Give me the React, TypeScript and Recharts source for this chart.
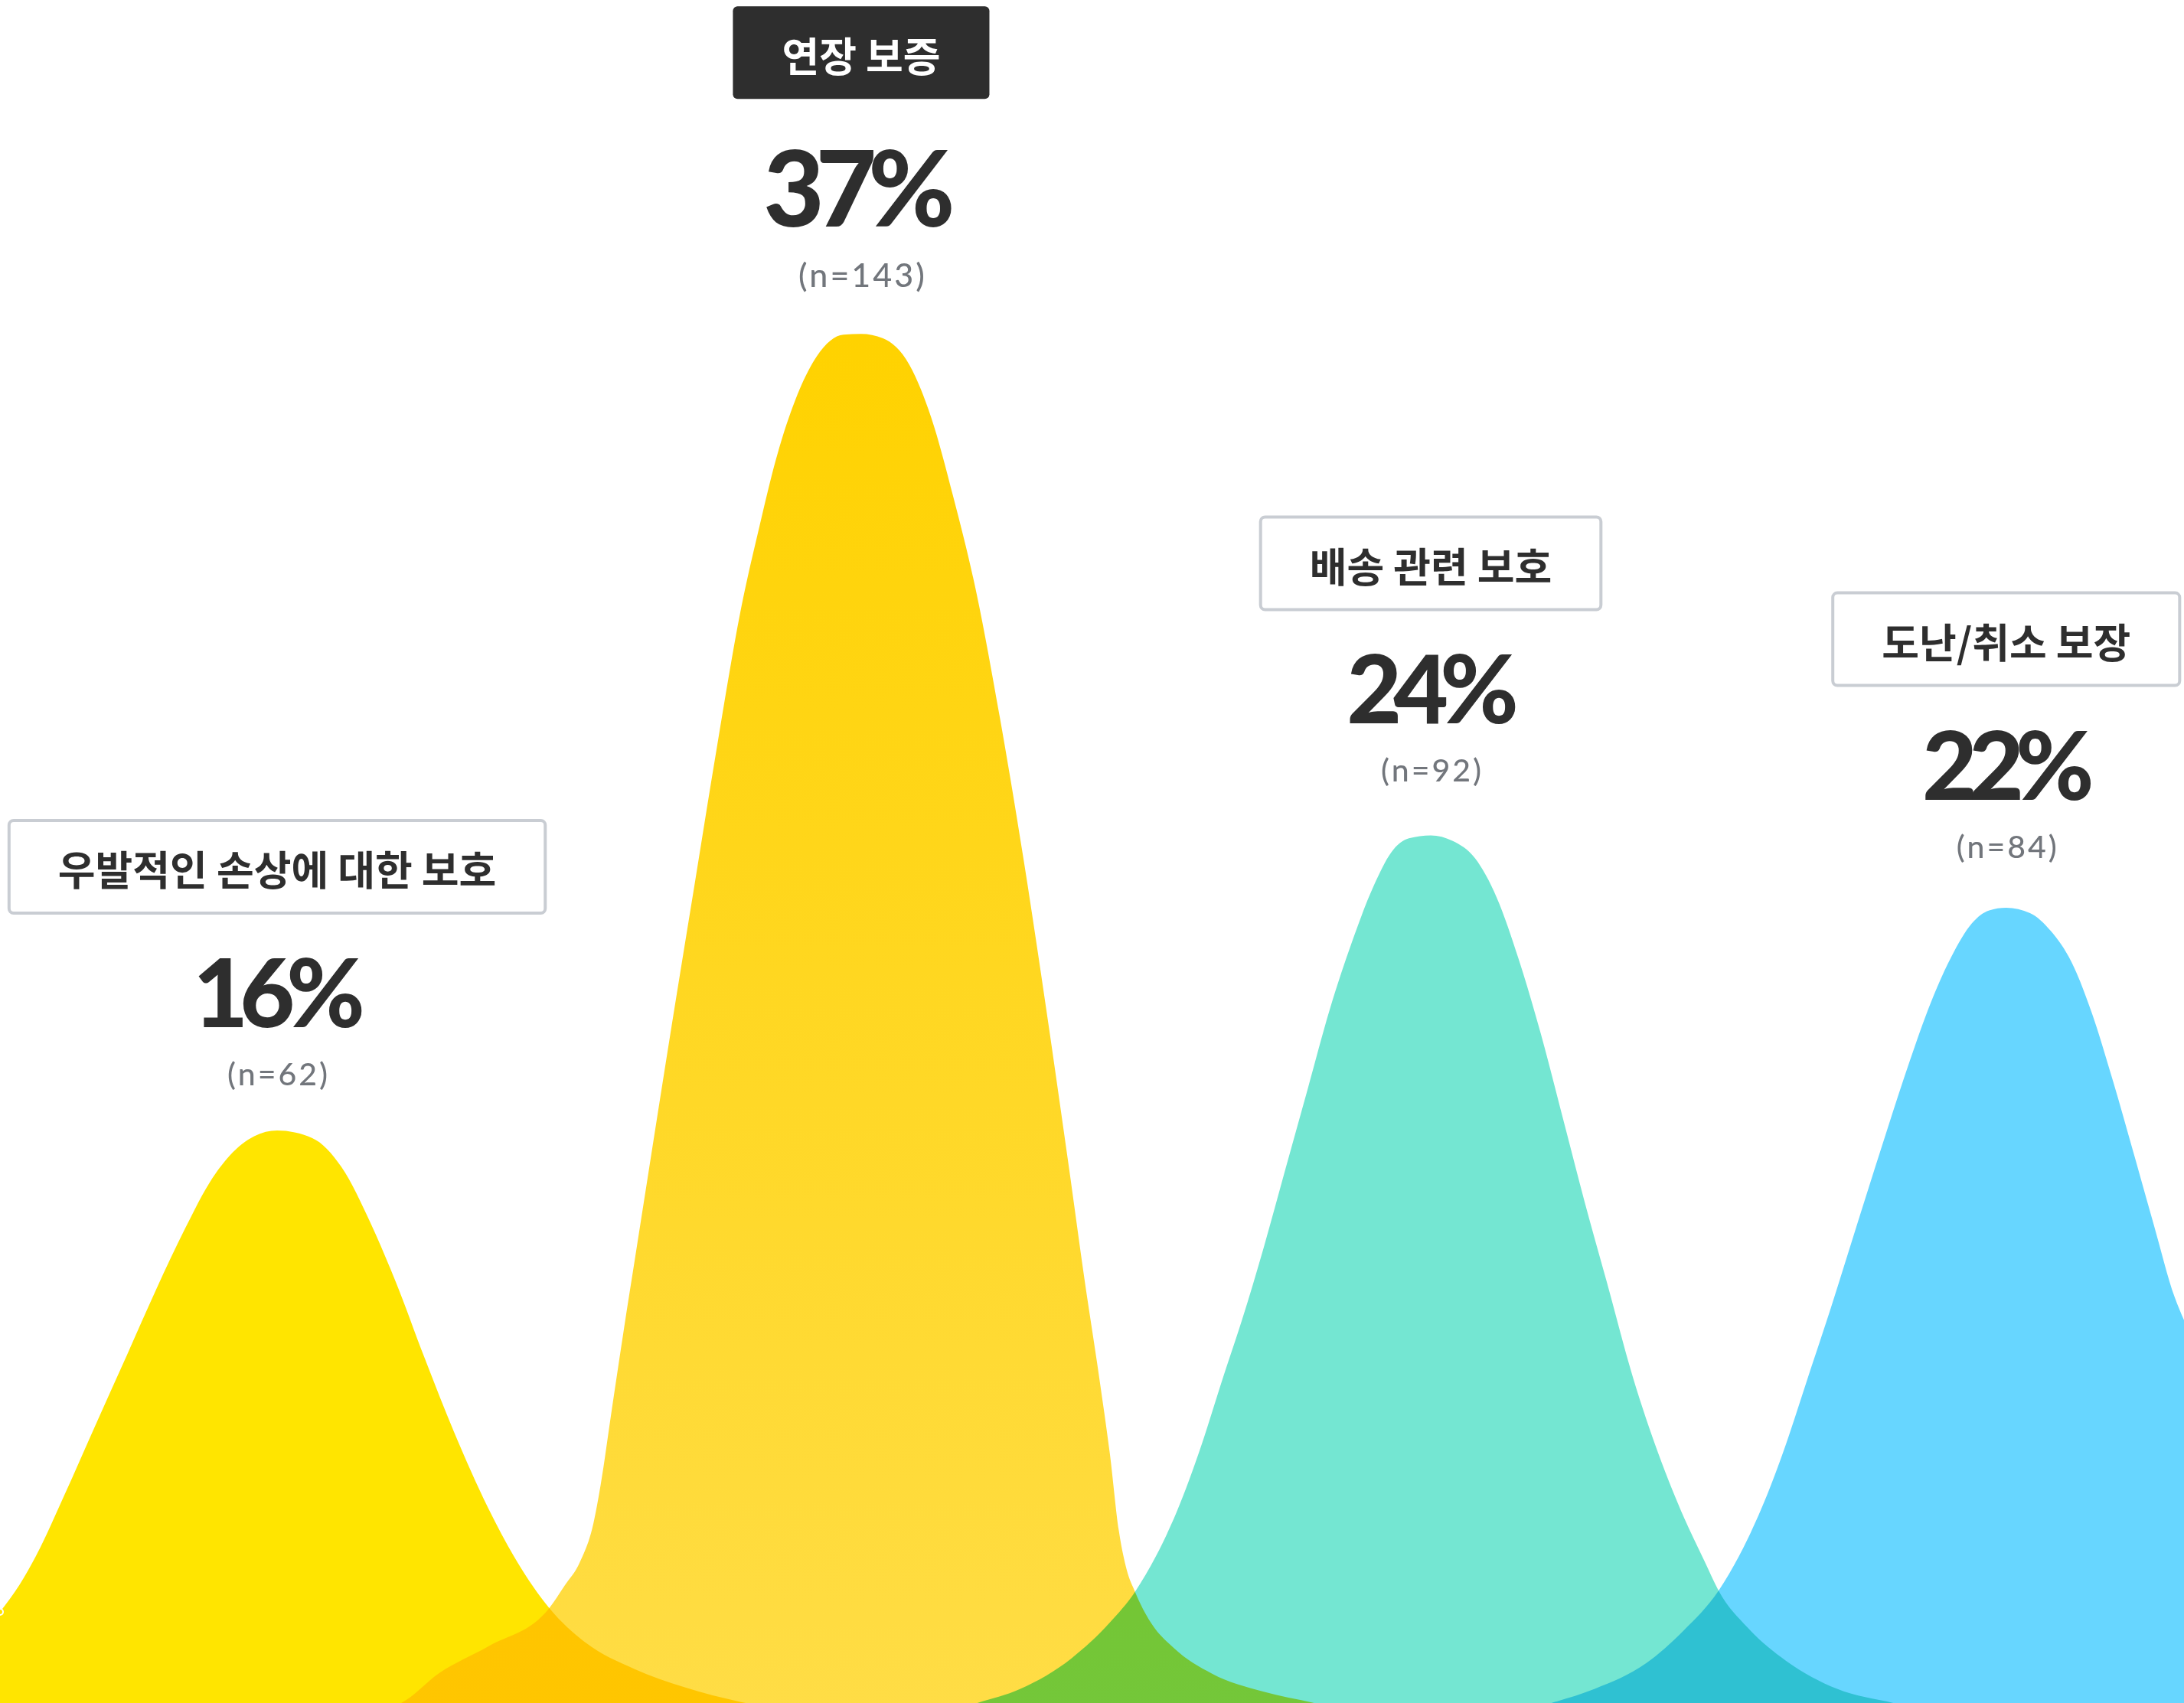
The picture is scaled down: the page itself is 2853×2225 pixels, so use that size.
import { useLayoutEffect, useRef, useState } from "react"
import { AreaChart, Area, XAxis, YAxis, ReferenceDot } from "recharts"

// x: position across the page (0-100), v: share in %
const accidentalCurve = [
  { x: 0, v: 3.31 }, { x: 0.89, v: 4.02 }, { x: 1.68, v: 4.82 }, { x: 2.91, v: 6.34 },
  { x: 4.47, v: 8.36 }, { x: 5.82, v: 10.09 }, { x: 7.15, v: 11.81 }, { x: 8.48, v: 13.42 },
  { x: 9.6, v: 14.63 }, { x: 10.52, v: 15.34 }, { x: 11.64, v: 15.85 }, { x: 12.69, v: 16.0 },
  { x: 14.3, v: 15.8 }, { x: 15.63, v: 15.04 }, { x: 17.0, v: 13.52 }, { x: 18.12, v: 12.01 },
  { x: 19.45, v: 9.99 }, { x: 20.79, v: 8.05 }, { x: 22.36, v: 6.04 }, { x: 23.69, v: 4.62 },
  { x: 25.15, v: 3.41 }, { x: 26.81, v: 2.5 }, { x: 29.06, v: 1.8 }, { x: 31.3, v: 1.33 },
  { x: 33.96, v: 0.93 }, { x: 38.56, v: 0.6 }, { x: 45.57, v: 0.15 }, { x: 50, v: 0 },
]

const warrantyCurve = [
  { x: 8, v: 0 }, { x: 14.02, v: 0.3 }, { x: 18.37, v: 0.91 }, { x: 20.12, v: 1.7 },
  { x: 22.36, v: 2.4 }, { x: 25.15, v: 3.41 }, { x: 25.85, v: 4.0 }, { x: 26.55, v: 4.62 },
  { x: 27.17, v: 5.64 }, { x: 27.5, v: 6.65 }, { x: 28.02, v: 8.67 }, { x: 28.55, v: 10.7 },
  { x: 29.1, v: 12.72 }, { x: 29.65, v: 14.74 }, { x: 30.75, v: 18.75 }, { x: 31.8, v: 22.47 },
  { x: 32.85, v: 26.19 }, { x: 33.9, v: 29.67 },
  { x: 34.8, v: 31.99 }, { x: 35.5, v: 33.63 }, { x: 36.41, v: 35.25 }, { x: 37.41, v: 36.42 },
  { x: 38.62, v: 36.98 }, { x: 39.43, v: 37.0 }, { x: 40.43, v: 36.88 }, { x: 41.64, v: 36.18 },
  { x: 42.64, v: 34.79 }, { x: 43.65, v: 32.7 }, { x: 44.72, v: 30.14 }, { x: 45.78, v: 26.89 },
  { x: 46.86, v: 23.17 }, { x: 47.9, v: 19.22 }, { x: 48.94, v: 15.04 }, { x: 49.65, v: 12.1 },
  { x: 50.33, v: 9.49 }, { x: 50.82, v: 7.47 }, { x: 51.23, v: 5.45 }, { x: 51.58, v: 4.44 },
  { x: 51.97, v: 3.84 }, { x: 52.69, v: 3.03 }, { x: 53.74, v: 2.36 }, { x: 55.5, v: 1.68 },
  { x: 57.83, v: 1.21 }, { x: 60.17, v: 0.91 }, { x: 64.84, v: 0.3 }, { x: 70, v: 0 },
]

const shippingCurve = [
  { x: 34, v: 0 }, { x: 40.3, v: 0.3 }, { x: 44.75, v: 0.91 }, { x: 46.72, v: 1.28 },
  { x: 49.07, v: 2.09 }, { x: 50.82, v: 3.03 }, { x: 51.97, v: 3.84 }, { x: 52.93, v: 4.78 },
  { x: 53.86, v: 5.92 }, { x: 55.03, v: 7.74 }, { x: 56.0, v: 9.49 }, { x: 56.86, v: 10.99 },
  { x: 57.87, v: 12.93 }, { x: 58.87, v: 15.01 }, { x: 59.88, v: 17.1 }, { x: 60.88, v: 19.18 },
  { x: 61.89, v: 20.95 }, { x: 62.9, v: 22.45 }, { x: 63.7, v: 23.33 }, { x: 64.51, v: 23.7 },
  { x: 65.51, v: 23.78 }, { x: 66.52, v: 23.63 }, { x: 67.53, v: 23.18 }, { x: 68.53, v: 22.14 },
  { x: 69.54, v: 20.51 }, { x: 70.54, v: 18.57 }, { x: 71.55, v: 16.35 }, { x: 72.56, v: 14.11 },
  { x: 73.56, v: 12.03 }, { x: 74.77, v: 9.49 }, { x: 75.94, v: 7.47 }, { x: 77.11, v: 5.79 },
  { x: 78.05, v: 4.64 }, { x: 78.69, v: 3.87 }, { x: 80.03, v: 2.89 }, { x: 81.78, v: 2.02 },
  { x: 84.12, v: 1.28 }, { x: 86.69, v: 0.91 }, { x: 92.9, v: 0.3 }, { x: 100, v: 0 },
]

const theftCurve = [
  { x: 58, v: 0 }, { x: 64.84, v: 0.26 }, { x: 71.04, v: 0.91 }, { x: 73.02, v: 1.28 },
  { x: 75.36, v: 1.95 }, { x: 77.11, v: 2.83 }, { x: 78.69, v: 3.87 }, { x: 79.68, v: 4.84 },
  { x: 80.62, v: 5.99 }, { x: 81.78, v: 7.74 }, { x: 82.78, v: 9.49 }, { x: 83.84, v: 11.34 },
  { x: 85.1, v: 13.65 }, { x: 86.37, v: 15.95 }, { x: 87.46, v: 17.86 }, { x: 88.4, v: 19.36 },
  { x: 89.34, v: 20.57 }, { x: 90.29, v: 21.46 }, { x: 91.08, v: 21.8 }, { x: 91.86, v: 21.87 },
  { x: 92.95, v: 21.73 }, { x: 93.9, v: 21.26 }, { x: 94.85, v: 20.44 }, { x: 95.79, v: 19.08 },
  { x: 96.74, v: 17.32 }, { x: 97.69, v: 15.41 }, { x: 98.62, v: 13.51 }, { x: 99.57, v: 11.61 },
  { x: 100, v: 11.0 },
]

const categories = ["우발적인 손상에 대한 보호", "연장 보증", "배송 관련 보호", "도난/취소 보장"]
const shares = [16, 37, 24, 22]
const counts = [62, 143, 92, 84]
const peakX = [12.69, 39.43, 65.51, 91.86]

const curves = [accidentalCurve, warrantyCurve, shippingCurve, theftCurve]
const fills = ["#FFE500", "url(#warrantyFill)", "#74E6D2", "#67D6FF"]
const highlighted = 1

const W = 2853
const H = 2270

function PeakLabel({ cx, cy, title, pct, n, strong }: any) {
  const ref = useRef<SVGTextElement>(null)
  const [tw, setTw] = useState(0)
  useLayoutEffect(() => {
    if (ref.current) setTw(ref.current.getComputedTextLength())
  }, [title])
  const boxW = tw + 128
  const boxH = 121
  const boxTop = cy - (strong ? 428 : 405)
  return (
    <g>
      <rect
        x={cx - boxW / 2}
        y={boxTop}
        width={boxW}
        height={boxH}
        rx={6}
        fill={strong ? "#2E2E2E" : "#fff"}
        stroke={strong ? "none" : "#C9CDD3"}
        strokeWidth={4}
      />
      <text
        ref={ref}
        x={cx}
        y={boxTop + boxH / 2 + 2}
        textAnchor="middle"
        dominantBaseline="central"
        fontFamily="'Noto Sans CJK KR', sans-serif"
        fontWeight={700}
        fontSize={53}
        fill={strong ? "#fff" : "#2E2E2E"}
      >
        {title}
      </text>
      <text
        x={cx - (strong ? 8 : 3)}
        y={cy - (strong ? 140 : 135)}
        textAnchor="middle"
        fontFamily="Lato, sans-serif"
        fontWeight={900}
        fontSize={strong ? 137 : 124}
        letterSpacing={-11}
        fill="#2E2E2E"
      >
        {pct}%
      </text>
      <text
        x={cx + 2}
        y={cy - (strong ? 61 : 59)}
        textAnchor="middle"
        fontFamily="Lato, sans-serif"
        fontWeight={500}
        fontSize={strong ? 43 : 41}
        letterSpacing={3}
        fill="#72767C"
      >
        (n={n})
      </text>
    </g>
  )
}

export default function App() {
  return (
    <div
      style={{
        position: "absolute",
        left: 0,
        top: 0,
        width: W,
        height: 2225,
        overflow: "hidden",
        background: "#fff",
      }}
    >
      <style>{`.recharts-area, .recharts-area-area { mix-blend-mode: multiply; }`}</style>
      <AreaChart width={W} height={H} margin={{ top: 0, right: 0, bottom: 0, left: 0 }}>
        <defs>
          <linearGradient id="warrantyFill" x1="0" y1="0" x2="0" y2="1">
            <stop offset="0" stopColor="#FFD200" />
            <stop offset="1" stopColor="#FFDD47" />
          </linearGradient>
        </defs>
        <XAxis type="number" dataKey="x" domain={[0, 100]} hide />
        <YAxis type="number" domain={[0, 45.8]} hide />
        {curves.map((c, i) => (
          <Area
            key={i}
            data={c}
            dataKey="v"
            type="monotone"
            stroke="none"
            fill={fills[i]}
            fillOpacity={1}
            isAnimationActive={false}
          />
        ))}
        {categories.map((cat, i) => (
          <ReferenceDot
            key={cat}
            x={peakX[i]}
            y={shares[i]}
            r={1}
            shape={(p: any) => (
              <PeakLabel
                cx={p.cx}
                cy={p.cy}
                title={cat}
                pct={shares[i]}
                n={counts[i]}
                strong={i === highlighted}
              />
            )}
          />
        ))}
      </AreaChart>
    </div>
  )
}
